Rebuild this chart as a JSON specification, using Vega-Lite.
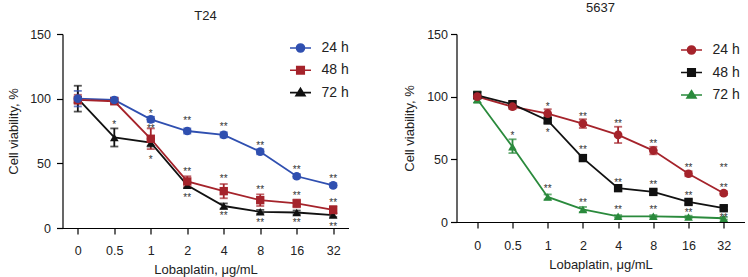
{
  "$schema": "https://vega.github.io/schema/vega-lite/v6.json",
  "padding": {"left": 6.5, "top": 2, "right": 0, "bottom": 0},
  "spacing": 54,
  "datasets": {
    "t24": [
      {"series": "24 h", "dose": "0", "v": 100, "lo": 94, "hi": 106},
      {"series": "24 h", "dose": "0.5", "v": 99, "lo": 97, "hi": 101},
      {"series": "24 h", "dose": "1", "v": 84, "lo": 82, "hi": 86},
      {"series": "24 h", "dose": "2", "v": 75, "lo": 73, "hi": 77},
      {"series": "24 h", "dose": "4", "v": 72, "lo": 70, "hi": 74},
      {"series": "24 h", "dose": "8", "v": 59, "lo": 57, "hi": 61},
      {"series": "24 h", "dose": "16", "v": 40, "lo": 38.5, "hi": 41.5},
      {"series": "24 h", "dose": "32", "v": 33, "lo": 31.5, "hi": 34.5},
      {"series": "48 h", "dose": "0", "v": 99, "lo": 96, "hi": 103},
      {"series": "48 h", "dose": "0.5", "v": 98, "lo": 96, "hi": 100},
      {"series": "48 h", "dose": "1", "v": 69, "lo": 61, "hi": 77},
      {"series": "48 h", "dose": "2", "v": 36, "lo": 32, "hi": 40},
      {"series": "48 h", "dose": "4", "v": 28.5, "lo": 23, "hi": 34},
      {"series": "48 h", "dose": "8", "v": 21.5, "lo": 17, "hi": 26},
      {"series": "48 h", "dose": "16", "v": 19, "lo": 16, "hi": 22},
      {"series": "48 h", "dose": "32", "v": 14, "lo": 11, "hi": 17},
      {"series": "72 h", "dose": "0", "v": 100, "lo": 90, "hi": 110},
      {"series": "72 h", "dose": "0.5", "v": 70, "lo": 63, "hi": 77},
      {"series": "72 h", "dose": "1", "v": 66, "lo": 63, "hi": 69},
      {"series": "72 h", "dose": "2", "v": 33, "lo": 31, "hi": 35},
      {"series": "72 h", "dose": "4", "v": 17, "lo": 15, "hi": 19},
      {"series": "72 h", "dose": "8", "v": 12.5, "lo": 11, "hi": 14},
      {"series": "72 h", "dose": "16", "v": 12, "lo": 10.5, "hi": 13.5},
      {"series": "72 h", "dose": "32", "v": 10, "lo": 8.5, "hi": 11.5}
    ],
    "c5637": [
      {"series": "24 h", "dose": "0", "v": 100, "lo": 99, "hi": 101},
      {"series": "24 h", "dose": "0.5", "v": 92, "lo": 90, "hi": 94},
      {"series": "24 h", "dose": "1", "v": 86.5, "lo": 83, "hi": 90},
      {"series": "24 h", "dose": "2", "v": 78.5, "lo": 75, "hi": 82},
      {"series": "24 h", "dose": "4", "v": 69.5, "lo": 63, "hi": 76},
      {"series": "24 h", "dose": "8", "v": 57, "lo": 54, "hi": 60},
      {"series": "24 h", "dose": "16", "v": 38.5, "lo": 36.5, "hi": 40.5},
      {"series": "24 h", "dose": "32", "v": 23, "lo": 21.5, "hi": 24.5},
      {"series": "48 h", "dose": "0", "v": 101, "lo": 99, "hi": 104},
      {"series": "48 h", "dose": "0.5", "v": 94, "lo": 92, "hi": 96},
      {"series": "48 h", "dose": "1", "v": 81, "lo": 79, "hi": 83},
      {"series": "48 h", "dose": "2", "v": 51, "lo": 49, "hi": 53},
      {"series": "48 h", "dose": "4", "v": 27, "lo": 25, "hi": 29},
      {"series": "48 h", "dose": "8", "v": 24, "lo": 22, "hi": 26},
      {"series": "48 h", "dose": "16", "v": 16, "lo": 14, "hi": 18},
      {"series": "48 h", "dose": "32", "v": 11, "lo": 9.5, "hi": 12.5},
      {"series": "72 h", "dose": "0", "v": 98, "lo": 95, "hi": 104},
      {"series": "72 h", "dose": "0.5", "v": 60, "lo": 55, "hi": 66},
      {"series": "72 h", "dose": "1", "v": 20, "lo": 18, "hi": 22},
      {"series": "72 h", "dose": "2", "v": 10, "lo": 8, "hi": 12},
      {"series": "72 h", "dose": "4", "v": 4.5, "lo": 3.5, "hi": 5.5},
      {"series": "72 h", "dose": "8", "v": 4.5, "lo": 3.5, "hi": 5.5},
      {"series": "72 h", "dose": "16", "v": 4, "lo": 3, "hi": 5},
      {"series": "72 h", "dose": "32", "v": 3, "lo": 2, "hi": 4}
    ],
    "stars_t24": [
      {"dose": "0.5", "y": 81.5, "label": "*"},
      {"dose": "1", "y": 90, "label": "*"},
      {"dose": "1", "y": 78, "label": "**"},
      {"dose": "1", "y": 54, "label": "*"},
      {"dose": "2", "y": 84, "label": "**"},
      {"dose": "2", "y": 45, "label": "**"},
      {"dose": "2", "y": 25, "label": "**"},
      {"dose": "4", "y": 80, "label": "**"},
      {"dose": "4", "y": 39.5, "label": "**"},
      {"dose": "4", "y": 11, "label": "**"},
      {"dose": "8", "y": 65, "label": "**"},
      {"dose": "8", "y": 31, "label": "**"},
      {"dose": "8", "y": 5.4, "label": "**"},
      {"dose": "16", "y": 46.6, "label": "**"},
      {"dose": "16", "y": 26.5, "label": "**"},
      {"dose": "16", "y": 5.4, "label": "**"},
      {"dose": "32", "y": 39.4, "label": "**"},
      {"dose": "32", "y": 20.6, "label": "**"},
      {"dose": "32", "y": 2, "label": "**"}
    ],
    "stars_5637": [
      {"dose": "0.5", "y": 70.6, "label": "*"},
      {"dose": "1", "y": 93.5, "label": "*"},
      {"dose": "1", "y": 72.7, "label": "*"},
      {"dose": "1", "y": 28, "label": "**"},
      {"dose": "2", "y": 85, "label": "**"},
      {"dose": "2", "y": 59, "label": "**"},
      {"dose": "2", "y": 17, "label": "**"},
      {"dose": "4", "y": 80, "label": "**"},
      {"dose": "4", "y": 33, "label": "**"},
      {"dose": "4", "y": 11.5, "label": "**"},
      {"dose": "8", "y": 64, "label": "**"},
      {"dose": "8", "y": 31, "label": "**"},
      {"dose": "8", "y": 10.8, "label": "**"},
      {"dose": "16", "y": 45, "label": "**"},
      {"dose": "16", "y": 22, "label": "**"},
      {"dose": "16", "y": 9, "label": "**"},
      {"dose": "32", "y": 45, "label": "**"},
      {"dose": "32", "y": 29, "label": "**"},
      {"dose": "32", "y": 5, "label": "**"}
    ]
  },
  "hconcat": [
    {
      "width": 286,
      "height": 194,
      "title": {"text": "T24", "offset": 5},
      "encoding": {
        "x": {"field": "dose", "type": "ordinal", "sort": ["0", "0.5", "1", "2", "4", "8", "16", "32"], "scale": {"type": "point", "padding": 0.42}, "title": "Lobaplatin, μg/mL", "axis": {"labelAngle": 0, "labelPadding": 10, "titlePadding": 7}}
      },
      "layer": [
        {
          "data": {"name": "t24"},
          "mark": {"type": "line", "strokeWidth": 1.8},
          "encoding": {
            "y": {"field": "v", "type": "quantitative", "scale": {"domain": [0, 150], "nice": false}, "axis": {"values": [0, 50, 100, 150], "title": "Cell viability, %", "titlePadding": 9.5, "labelPadding": 6}},
            "color": {"field": "series", "type": "nominal", "scale": {"domain": ["24 h", "48 h", "72 h"], "range": ["#2f4fb0", "#a5232b", "#111111"]},
              "legend": {"title": null, "orient": "none", "legendX": 231, "legendY": 7, "symbolSize": 100, "labelOffset": 14, "rowPadding": 7.3, "labelFontSize": 14, "labelColor": "#222", "symbolStrokeWidth": 1.6, "symbolOpacity": 1, "padding": 0,
                "symbolType": {"expr": "datum.value === '24 h' ? 'M-2.1,0H2.1M-0.8,0A0.8,0.8 0 1,0 0.8,0A0.8,0.8 0 1,0 -0.8,0Z' : datum.value === '48 h' ? 'M-2.1,0H2.1M-0.75,-0.75H0.75V0.75H-0.75Z' : 'M-2.1,0H2.1M0,-0.85L0.9,0.6L-0.9,0.6Z'"},
                "encode": {"symbols": {"update": {
                  "shape": {"signal": "datum.value === '24 h' ? 'M-2.1,0H2.1M-0.8,0A0.8,0.8 0 1,0 0.8,0A0.8,0.8 0 1,0 -0.8,0Z' : datum.value === '48 h' ? 'M-2.1,0H2.1M-0.75,-0.75H0.75V0.75H-0.75Z' : 'M-2.1,0H2.1M0,-0.85L0.9,0.6L-0.9,0.6Z'"},
                  "stroke": {"signal": "datum.value === '24 h' ? '#2f4fb0' : datum.value === '48 h' ? '#a5232b' : '#111111'"},
                  "fill": {"signal": "datum.value === '24 h' ? '#2f4fb0' : datum.value === '48 h' ? '#a5232b' : '#111111'"},
                  "opacity": {"value": 1}}}}}}
          }
        },
        {
          "data": {"name": "t24"},
          "mark": {"type": "rule", "strokeWidth": 1.8},
          "encoding": {
            "y": {"field": "lo", "type": "quantitative"},
            "y2": {"field": "hi"},
            "color": {"field": "series", "type": "nominal"}
          }
        },
        {
          "data": {"name": "t24"},
          "mark": {"type": "tick", "thickness": 1.8, "size": 8},
          "encoding": {
            "y": {"field": "lo", "type": "quantitative"},
            "color": {"field": "series", "type": "nominal"}
          }
        },
        {
          "data": {"name": "t24"},
          "mark": {"type": "tick", "thickness": 1.8, "size": 8},
          "encoding": {
            "y": {"field": "hi", "type": "quantitative"},
            "color": {"field": "series", "type": "nominal"}
          }
        },
        {
          "data": {"name": "t24"},
          "transform": [{"filter": "datum.series === '72 h'"}],
          "mark": {"type": "point", "shape": "triangle-up", "filled": true, "opacity": 1, "size": 75, "strokeWidth": 1},
          "encoding": {
            "y": {"field": "v", "type": "quantitative"},
            "color": {"field": "series", "type": "nominal"}
          }
        },
        {
          "data": {"name": "t24"},
          "transform": [{"filter": "datum.series === '48 h'"}],
          "mark": {"type": "point", "shape": "square", "filled": true, "opacity": 1, "size": 70, "strokeWidth": 1},
          "encoding": {
            "y": {"field": "v", "type": "quantitative"},
            "color": {"field": "series", "type": "nominal"}
          }
        },
        {
          "data": {"name": "t24"},
          "transform": [{"filter": "datum.series === '24 h'"}],
          "mark": {"type": "point", "shape": "circle", "filled": true, "opacity": 1, "size": 75, "strokeWidth": 1},
          "encoding": {
            "y": {"field": "v", "type": "quantitative"},
            "color": {"field": "series", "type": "nominal"}
          }
        },
        {
          "data": {"name": "stars_t24"},
          "mark": {"type": "text", "fontSize": 10, "fill": "#333", "baseline": "middle", "dy": 2},
          "encoding": {
            "y": {"field": "y", "type": "quantitative"},
            "text": {"field": "label"}
          }
        }
      ]
    },
    {
      "width": 288,
      "height": 188,
      "title": {"text": "5637", "offset": 13},
      "encoding": {
        "x": {"field": "dose", "type": "ordinal", "sort": ["0", "0.5", "1", "2", "4", "8", "16", "32"], "scale": {"type": "point", "padding": 0.59}, "title": "Lobaplatin, μg/mL", "axis": {"labelAngle": 0, "labelPadding": 11, "titlePadding": 7}}
      },
      "layer": [
        {
          "data": {"name": "c5637"},
          "mark": {"type": "line", "strokeWidth": 1.8},
          "encoding": {
            "y": {"field": "v", "type": "quantitative", "scale": {"domain": [0, 150], "nice": false}, "axis": {"values": [0, 50, 100, 150], "title": "Cell viability, %", "titlePadding": 10, "labelPadding": 3}},
            "color": {"field": "series", "type": "nominal", "scale": {"domain": ["24 h", "48 h", "72 h"], "range": ["#a5232b", "#111111", "#2a8a3c"]},
              "legend": {"title": null, "orient": "none", "legendX": 228, "legendY": 9, "symbolSize": 100, "labelOffset": 14, "rowPadding": 7.5, "labelFontSize": 14, "labelColor": "#222", "symbolStrokeWidth": 1.6, "symbolOpacity": 1, "padding": 0,
                "symbolType": {"expr": "datum.value === '24 h' ? 'M-2.1,0H2.1M-0.8,0A0.8,0.8 0 1,0 0.8,0A0.8,0.8 0 1,0 -0.8,0Z' : datum.value === '48 h' ? 'M-2.1,0H2.1M-0.75,-0.75H0.75V0.75H-0.75Z' : 'M-2.1,0H2.1M0,-0.85L0.9,0.6L-0.9,0.6Z'"},
                "encode": {"symbols": {"update": {
                  "shape": {"signal": "datum.value === '24 h' ? 'M-2.1,0H2.1M-0.8,0A0.8,0.8 0 1,0 0.8,0A0.8,0.8 0 1,0 -0.8,0Z' : datum.value === '48 h' ? 'M-2.1,0H2.1M-0.75,-0.75H0.75V0.75H-0.75Z' : 'M-2.1,0H2.1M0,-0.85L0.9,0.6L-0.9,0.6Z'"},
                  "stroke": {"signal": "datum.value === '24 h' ? '#a5232b' : datum.value === '48 h' ? '#111111' : '#2a8a3c'"},
                  "fill": {"signal": "datum.value === '24 h' ? '#a5232b' : datum.value === '48 h' ? '#111111' : '#2a8a3c'"},
                  "opacity": {"value": 1}}}}}}
          }
        },
        {
          "data": {"name": "c5637"},
          "mark": {"type": "rule", "strokeWidth": 1.8},
          "encoding": {
            "y": {"field": "lo", "type": "quantitative"},
            "y2": {"field": "hi"},
            "color": {"field": "series", "type": "nominal"}
          }
        },
        {
          "data": {"name": "c5637"},
          "mark": {"type": "tick", "thickness": 1.8, "size": 8},
          "encoding": {
            "y": {"field": "lo", "type": "quantitative"},
            "color": {"field": "series", "type": "nominal"}
          }
        },
        {
          "data": {"name": "c5637"},
          "mark": {"type": "tick", "thickness": 1.8, "size": 8},
          "encoding": {
            "y": {"field": "hi", "type": "quantitative"},
            "color": {"field": "series", "type": "nominal"}
          }
        },
        {
          "data": {"name": "c5637"},
          "transform": [{"filter": "datum.series === '72 h'"}],
          "mark": {"type": "point", "shape": "triangle-up", "filled": true, "opacity": 1, "size": 75, "strokeWidth": 1},
          "encoding": {
            "y": {"field": "v", "type": "quantitative"},
            "color": {"field": "series", "type": "nominal"}
          }
        },
        {
          "data": {"name": "c5637"},
          "transform": [{"filter": "datum.series === '48 h'"}],
          "mark": {"type": "point", "shape": "square", "filled": true, "opacity": 1, "size": 70, "strokeWidth": 1},
          "encoding": {
            "y": {"field": "v", "type": "quantitative"},
            "color": {"field": "series", "type": "nominal"}
          }
        },
        {
          "data": {"name": "c5637"},
          "transform": [{"filter": "datum.series === '24 h'"}],
          "mark": {"type": "point", "shape": "circle", "filled": true, "opacity": 1, "size": 75, "strokeWidth": 1},
          "encoding": {
            "y": {"field": "v", "type": "quantitative"},
            "color": {"field": "series", "type": "nominal"}
          }
        },
        {
          "data": {"name": "stars_5637"},
          "mark": {"type": "text", "fontSize": 10, "fill": "#333", "baseline": "middle", "dy": 2},
          "encoding": {
            "y": {"field": "y", "type": "quantitative"},
            "text": {"field": "label"}
          }
        }
      ]
    }
  ],
  "resolve": {"scale": {"color": "independent", "x": "independent", "y": "independent"}, "legend": {"color": "independent"}},
  "config": {
    "font": "Liberation Sans",
    "view": {"stroke": null},
    "axis": {"domainColor": "#000", "tickColor": "#000", "labelColor": "#222", "titleColor": "#222", "labelFontSize": 12.5, "titleFontSize": 13, "titleFontWeight": "normal", "grid": false, "tickSize": 6, "domainWidth": 1.2, "tickWidth": 1.2},
    "title": {"fontSize": 13, "fontWeight": "normal", "color": "#222"}
  }
}
